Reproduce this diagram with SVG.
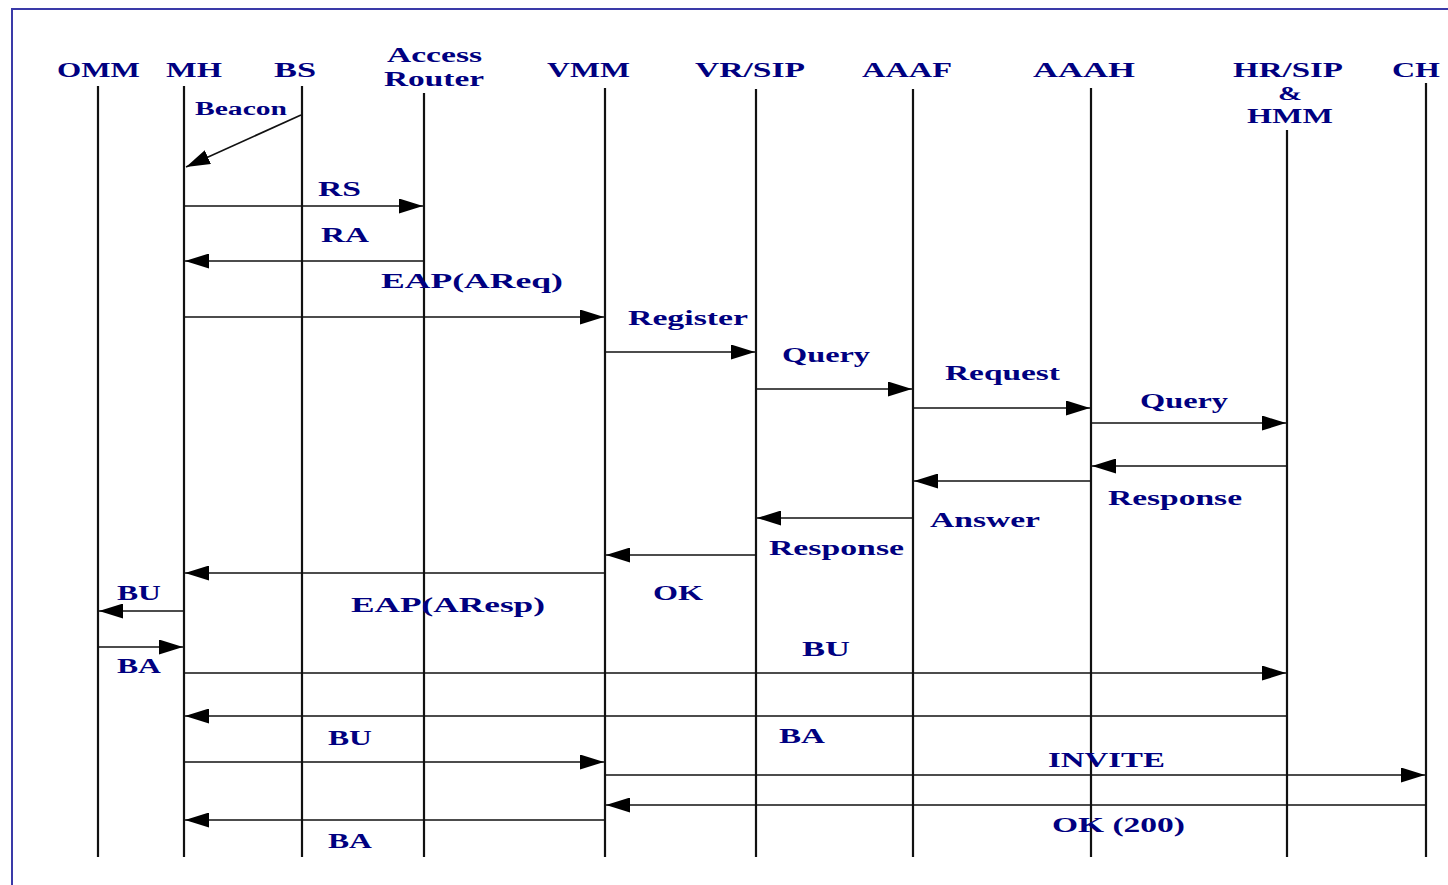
<svg xmlns="http://www.w3.org/2000/svg" width="1448" height="885" viewBox="0 0 1448 885">
<defs>
<style>
.lbl{font-family:"Liberation Serif","Times New Roman",serif;font-weight:bold;fill:#000080;font-size:21px}
.hdr{font-size:22px}
.small{font-size:18px}
.life{stroke:#111;stroke-width:2.2;fill:none}
.msg{stroke:#111;stroke-width:1.6;fill:none;marker-end:url(#ah)}
</style>
<marker id="ah" markerUnits="userSpaceOnUse" markerWidth="24" markerHeight="15" viewBox="0 0 24 15" refX="24" refY="7.5" orient="auto">
<path d="M0,0 L24,7.5 L0,15 z" fill="#000"/>
</marker>
</defs>
<rect width="1448" height="885" fill="#fff"/>
<path d="M12,885 L12,9 L1448,9" stroke="#3a3aa8" stroke-width="2" fill="none"/>

<g id="omm"><text class="lbl hdr" x="57" y="77" textLength="83" lengthAdjust="spacingAndGlyphs">OMM</text><line class="life" x1="98" y1="86" x2="98" y2="857"/></g>
<g id="mh"><text class="lbl hdr" x="166" y="77" textLength="56" lengthAdjust="spacingAndGlyphs">MH</text><line class="life" x1="184" y1="86" x2="184" y2="857"/></g>
<g id="bs"><text class="lbl hdr" x="274" y="77" textLength="42" lengthAdjust="spacingAndGlyphs">BS</text><line class="life" x1="302" y1="86" x2="302" y2="857"/></g>
<g id="ar"><text class="lbl hdr" x="387" y="62" textLength="95" lengthAdjust="spacingAndGlyphs">Access</text><text class="lbl hdr" x="384" y="86" textLength="100" lengthAdjust="spacingAndGlyphs">Router</text><line class="life" x1="424" y1="93" x2="424" y2="857"/></g>
<g id="vmm"><text class="lbl hdr" x="547" y="77" textLength="83" lengthAdjust="spacingAndGlyphs">VMM</text><line class="life" x1="605" y1="88" x2="605" y2="857"/></g>
<g id="vrsip"><text class="lbl hdr" x="695" y="77" textLength="110" lengthAdjust="spacingAndGlyphs">VR/SIP</text><line class="life" x1="756" y1="89" x2="756" y2="857"/></g>
<g id="aaaf"><text class="lbl hdr" x="862" y="77" textLength="90" lengthAdjust="spacingAndGlyphs">AAAF</text><line class="life" x1="913" y1="89" x2="913" y2="857"/></g>
<g id="aaah"><text class="lbl hdr" x="1033" y="77" textLength="102" lengthAdjust="spacingAndGlyphs">AAAH</text><line class="life" x1="1091" y1="88" x2="1091" y2="857"/></g>
<g id="hr"><text class="lbl hdr" x="1233" y="77" textLength="110" lengthAdjust="spacingAndGlyphs">HR/SIP</text><text class="lbl small" x="1278" y="100" textLength="24" lengthAdjust="spacingAndGlyphs">&amp;</text><text class="lbl hdr" x="1247" y="123" textLength="86" lengthAdjust="spacingAndGlyphs">HMM</text><line class="life" x1="1287" y1="130" x2="1287" y2="857"/></g>
<g id="ch"><text class="lbl hdr" x="1392" y="77" textLength="48" lengthAdjust="spacingAndGlyphs">CH</text><line class="life" x1="1426" y1="83" x2="1426" y2="857"/></g>

<g id="connectors">
<line class="msg" x1="301" y1="115" x2="186" y2="167"/>
<line class="msg" x1="184" y1="206" x2="423" y2="206"/>
<line class="msg" x1="424" y1="261" x2="185" y2="261"/>
<line class="msg" x1="184" y1="317" x2="604" y2="317"/>
<line class="msg" x1="605" y1="352" x2="755" y2="352"/>
<line class="msg" x1="756" y1="389" x2="912" y2="389"/>
<line class="msg" x1="913" y1="408" x2="1090" y2="408"/>
<line class="msg" x1="1091" y1="423" x2="1286" y2="423"/>
<line class="msg" x1="1287" y1="466" x2="1092" y2="466"/>
<line class="msg" x1="1091" y1="481" x2="914" y2="481"/>
<line class="msg" x1="913" y1="518" x2="757" y2="518"/>
<line class="msg" x1="756" y1="555" x2="606" y2="555"/>
<line class="msg" x1="605" y1="573" x2="185" y2="573"/>
<line class="msg" x1="184" y1="611" x2="99" y2="611"/>
<line class="msg" x1="98" y1="647" x2="183" y2="647"/>
<line class="msg" x1="184" y1="673" x2="1286" y2="673"/>
<line class="msg" x1="1287" y1="716" x2="185" y2="716"/>
<line class="msg" x1="184" y1="762" x2="604" y2="762"/>
<line class="msg" x1="605" y1="775" x2="1425" y2="775"/>
<line class="msg" x1="1426" y1="805" x2="606" y2="805"/>
<line class="msg" x1="605" y1="820" x2="185" y2="820"/>
</g>

<g id="labels">
<text class="lbl small" x="195" y="115" textLength="92" lengthAdjust="spacingAndGlyphs">Beacon</text>
<text class="lbl" x="318" y="196" textLength="43" lengthAdjust="spacingAndGlyphs">RS</text>
<text class="lbl" x="321" y="242" textLength="48" lengthAdjust="spacingAndGlyphs">RA</text>
<text class="lbl" x="381" y="288" textLength="182" lengthAdjust="spacingAndGlyphs">EAP(AReq)</text>
<text class="lbl" x="628" y="325" textLength="120" lengthAdjust="spacingAndGlyphs">Register</text>
<text class="lbl" x="782" y="362" textLength="88" lengthAdjust="spacingAndGlyphs">Query</text>
<text class="lbl" x="945" y="380" textLength="115" lengthAdjust="spacingAndGlyphs">Request</text>
<text class="lbl" x="1140" y="408" textLength="88" lengthAdjust="spacingAndGlyphs">Query</text>
<text class="lbl" x="1108" y="505" textLength="134" lengthAdjust="spacingAndGlyphs">Response</text>
<text class="lbl" x="930" y="527" textLength="110" lengthAdjust="spacingAndGlyphs">Answer</text>
<text class="lbl" x="769" y="555" textLength="135" lengthAdjust="spacingAndGlyphs">Response</text>
<text class="lbl" x="653" y="600" textLength="50" lengthAdjust="spacingAndGlyphs">OK</text>
<text class="lbl" x="351" y="612" textLength="194" lengthAdjust="spacingAndGlyphs">EAP(AResp)</text>
<text class="lbl" x="117" y="600" textLength="44" lengthAdjust="spacingAndGlyphs">BU</text>
<text class="lbl" x="117" y="673" textLength="44" lengthAdjust="spacingAndGlyphs">BA</text>
<text class="lbl" x="802" y="656" textLength="48" lengthAdjust="spacingAndGlyphs">BU</text>
<text class="lbl" x="779" y="743" textLength="46" lengthAdjust="spacingAndGlyphs">BA</text>
<text class="lbl" x="328" y="745" textLength="44" lengthAdjust="spacingAndGlyphs">BU</text>
<text class="lbl" x="1048" y="767" textLength="117" lengthAdjust="spacingAndGlyphs">INVITE</text>
<text class="lbl" x="1052" y="832" textLength="133" lengthAdjust="spacingAndGlyphs">OK (200)</text>
<text class="lbl" x="328" y="848" textLength="44" lengthAdjust="spacingAndGlyphs">BA</text>
</g>
</svg>
